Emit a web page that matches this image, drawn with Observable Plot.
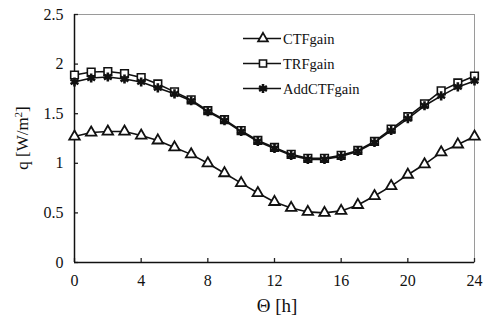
<!DOCTYPE html>
<html>
<head>
<meta charset="utf-8">
<script src="https://cdn.jsdelivr.net/npm/d3@7"></script>
<script src="https://cdn.jsdelivr.net/npm/@observablehq/plot@0.6"></script>
<style>
  html, body { margin: 0; padding: 0; background: #fff; }
  #chart { width: 491px; height: 322px; }
</style>
</head>
<body>
<div id="chart"></div>
<script>
const hours = [0,1,2,3,4,5,6,7,8,9,10,11,12,13,14,15,16,17,18,19,20,21,22,23,24];
const ctfGain = [1.27,1.31,1.32,1.32,1.28,1.23,1.16,1.09,1.00,0.90,0.80,0.70,0.61,0.55,0.51,0.50,0.52,0.58,0.67,0.77,0.885,0.99,1.11,1.19,1.27];
const trfGain = [1.89,1.92,1.925,1.905,1.865,1.80,1.72,1.64,1.53,1.44,1.33,1.23,1.16,1.09,1.05,1.05,1.08,1.13,1.22,1.345,1.47,1.60,1.73,1.81,1.88];
const addCtfGain = [1.82,1.86,1.87,1.85,1.82,1.76,1.70,1.63,1.52,1.43,1.32,1.22,1.15,1.08,1.04,1.04,1.07,1.12,1.21,1.33,1.45,1.58,1.68,1.77,1.83];
const seriesNames = ["CTFgain", "TRFgain", "AddCTFgain"];
const xTicks = [0,4,8,12,16,20,24];
const yTicks = [0,0.5,1,1.5,2,2.5];
const yTickLabels = ["0","0.5","1","1.5","2","2.5"];

const seriesValues = [ctfGain, trfGain, addCtfGain];
const data = seriesNames.flatMap((name, s) =>
  hours.map((h, i) => ({series: name, h, q: seriesValues[s][i]})));
const only = name => data.filter(d => d.series === name);

const serif = "Liberation Serif, Times New Roman, serif";

const plot = Plot.plot({
  width: 491,
  height: 322,
  marginLeft: 74,
  marginRight: 17,
  marginTop: 14,
  marginBottom: 60,
  style: {background: "#fff", fontFamily: serif, fontSize: "16px", color: "#111"},
  x: {domain: [0, 24], ticks: xTicks, label: null},
  y: {domain: [0, 2.5], ticks: yTicks, label: null},
  marks: [
    Plot.frame({stroke: "#9a9a9a", strokeWidth: 1}),
    Plot.axisX({ticks: xTicks, tickSize: -4, tickPadding: 16, fontSize: 16, fontFamily: serif, stroke: "#222", strokeWidth: 1.3}),
    Plot.axisY({ticks: yTicks, tickSize: -4, tickPadding: 15, fontSize: 16, fontFamily: serif, stroke: "#222", strokeWidth: 1.3,
      tickFormat: v => yTickLabels[yTicks.indexOf(v)]}),
    Plot.ruleX([0], {stroke: "#111", strokeWidth: 1.5}),
    Plot.ruleY([0], {stroke: "#111", strokeWidth: 1.5}),
    Plot.line(data, {x: "h", y: "q", z: "series", stroke: "#111", strokeWidth: 1.6}),
    Plot.dot(only("TRFgain"), {x: "h", y: "q", symbol: "square", r: 4.3, fill: "#fff", stroke: "#111", strokeWidth: 1.6}),
    Plot.dot(only("AddCTFgain"), {x: "h", y: "q", symbol: "asterisk", r: 4.3, stroke: "#111", strokeWidth: 2.6}),
    Plot.dot(only("CTFgain"), {x: "h", y: "q", symbol: "triangle", r: 3.9, fill: "#fff", stroke: "#111", strokeWidth: 1.8})
  ]
});

document.getElementById("chart").appendChild(plot);

// Legend and axis titles
const svg = d3.select(plot);
const symbols = [
  {type: d3.symbolTriangle, r: 3.6, fill: "#fff", sw: 1.8},
  {type: d3.symbolSquare, r: 4.0, fill: "#fff", sw: 1.6},
  {type: d3.symbolAsterisk, r: 4.3, fill: "none", sw: 2.6}
];
const lg = svg.append("g").attr("font-family", serif).attr("font-size", 14.5).attr("text-anchor", "start");
seriesNames.forEach((name, i) => {
  const y = 38.5 + i * 25;
  lg.append("line").attr("x1", 243).attr("x2", 281).attr("y1", y).attr("y2", y)
    .attr("stroke", "#111").attr("stroke-width", 1.6);
  lg.append("path").attr("d", d3.symbol(symbols[i].type, symbols[i].r * symbols[i].r * Math.PI)())
    .attr("transform", `translate(263,${y})`)
    .attr("fill", symbols[i].fill).attr("stroke", "#111").attr("stroke-width", symbols[i].sw);
  lg.append("text").attr("x", 283).attr("y", y).attr("dy", "0.35em").attr("fill", "#111").text(name);
});

svg.append("text")
  .attr("transform", "translate(22,138) rotate(-90)")
  .attr("text-anchor", "middle").attr("dy", "0.35em")
  .attr("font-family", serif).attr("font-size", 17).attr("fill", "#111")
  .html('q [W/m<tspan baseline-shift="super" font-size="11">2</tspan>]');

svg.append("text")
  .attr("x", 277).attr("y", 305)
  .attr("text-anchor", "middle").attr("dy", "0.35em")
  .attr("font-family", serif).attr("font-size", 19).attr("fill", "#111")
  .text("Θ [h]");
</script>
</body>
</html>
